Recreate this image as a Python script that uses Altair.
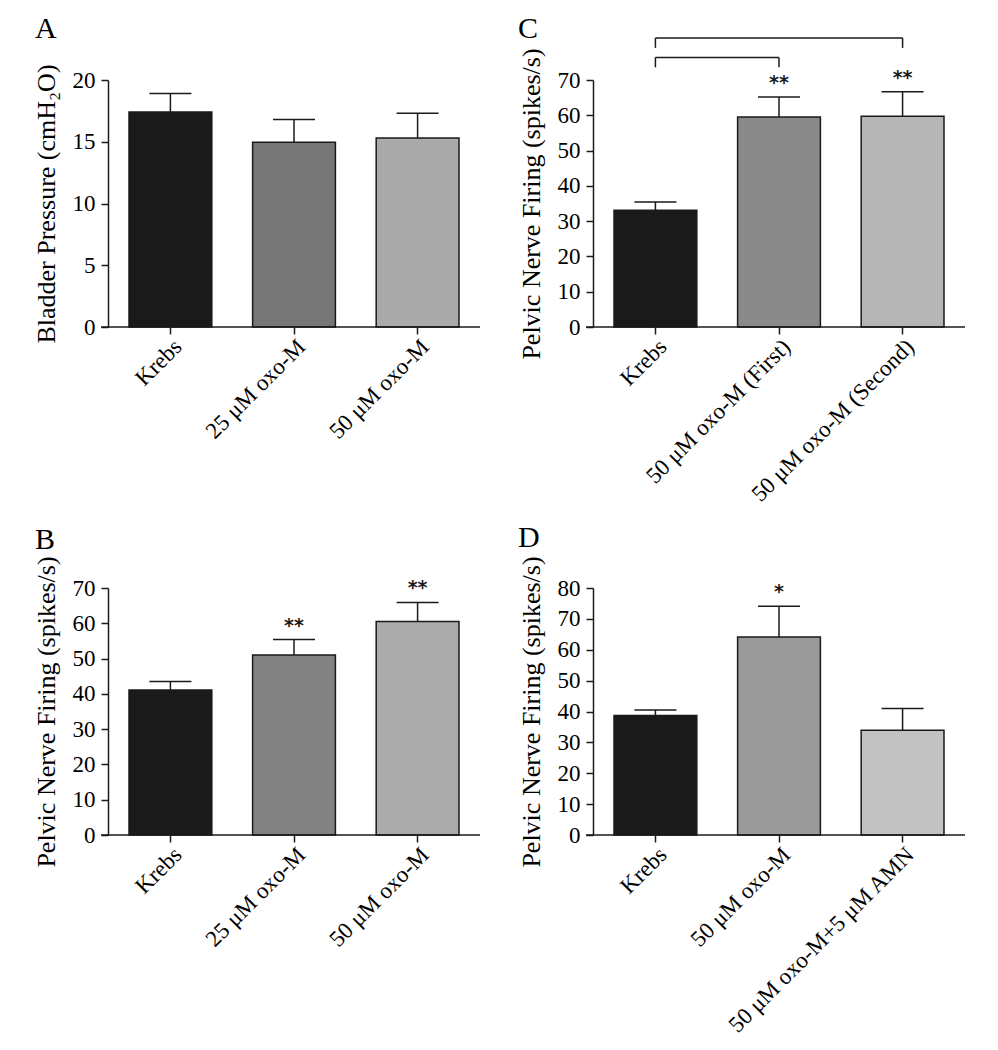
import altair as alt
import pandas as pd

FONT = "Liberation Serif"
W, H = 372, 247
INK = "#1a1a1a"

# ---- data ----
a_cats = ["Krebs", "25 μM oxo-M", "50 μM oxo-M"]
a_mean = [17.4, 14.95, 15.3]
a_sem = [1.5, 1.85, 2.0]
a_star = ["", "", ""]
a_fill = ["#1a1a1a", "#767676", "#aaaaaa"]

b_cats = ["Krebs", "25 μM oxo-M", "50 μM oxo-M"]
b_mean = [41.1, 51.0, 60.5]
b_sem = [2.4, 4.4, 5.4]
b_star = ["", "**", "**"]
b_fill = ["#1a1a1a", "#828282", "#ababab"]

c_cats = ["Krebs", "50 μM oxo-M (First)", "50 μM oxo-M (Second)"]
c_mean = [33.1, 59.5, 59.7]
c_sem = [2.3, 5.7, 7.0]
c_star = ["", "**", "**"]
c_fill = ["#1a1a1a", "#8a8a8a", "#b6b6b6"]

d_cats = ["Krebs", "50 μM oxo-M", "50 μM oxo-M+5 μM AMN"]
d_mean = [38.7, 64.1, 33.9]
d_sem = [1.8, 10.0, 7.1]
d_star = ["", "*", ""]
d_fill = ["#1a1a1a", "#9a9a9a", "#c2c2c2"]

# significance brackets for panel C (from, to, level, drop)
br_from = ["Krebs", "Krebs"]
br_to = ["50 μM oxo-M (First)", "50 μM oxo-M (Second)"]
br_level = [76.4, 81.9]
br_low = [73.6, 79.1]


def panel(letter, cats, mean, sem, star, fill, ymax, ystep, ytitle,
          letter_pos, brackets=False, anchor=False):
    df = pd.DataFrame({
        "cat": cats, "v": mean,
        "top": [m + s for m, s in zip(mean, sem)],
        "star": star, "fill": fill,
    })
    xscale = alt.Scale(domain=cats, paddingInner=0.33, paddingOuter=0.17)
    xaxis = alt.Axis(title=None, labelAngle=-45, labelAlign="right",
                     labelBaseline="top", tickSize=7, tickWidth=1.5,
                     tickColor=INK, domain=False, labelFontSize=23,
                     labelFont=FONT, labelColor="black",
                     labelPadding=1, labelLimit=500)
    yscale = alt.Scale(domain=[0, ymax], nice=False)
    yaxis = alt.Axis(title=ytitle, values=list(range(0, ymax + 1, ystep)),
                     tickSize=7, tickWidth=1.5, tickColor=INK,
                     domainColor=INK, domainWidth=1.5, grid=False,
                     labelFontSize=23, labelFont=FONT, labelColor="black",
                     labelPadding=6, titleFontSize=26, titleFont=FONT,
                     titleFontWeight="normal", titleColor="black",
                     titlePadding=13)

    def X(f="cat"):
        return alt.X(f + ":N", scale=xscale, axis=xaxis, sort=None)

    def Y(f):
        return alt.Y(f + ":Q", scale=yscale, axis=yaxis)

    base = alt.Chart(df)
    bars = base.mark_bar(stroke=INK, strokeWidth=1.5).encode(
        x=X(), y=Y("v"), color=alt.Color("fill:N", scale=None))
    stems = base.mark_rule(color=INK, strokeWidth=1.5).encode(
        x=X(), y=Y("v"), y2="top:Q")
    caps = base.mark_tick(color=INK, size=42, thickness=1.5, opacity=1).encode(
        x=X(), y=Y("top"))
    stars = base.mark_text(dy=-8, baseline="alphabetic", fontSize=19,
                           fontWeight="bold", font="DejaVu Sans",
                           color=INK).encode(
        x=X(), y=Y("top"), text="star:N")
    xline = alt.Chart(pd.DataFrame({"k": [0]})).mark_rule(
        color=INK, strokeWidth=1.5).encode(
        x=alt.value(-7), x2=alt.value(W), y=alt.value(H))
    lx, ly = letter_pos
    lab = alt.Chart(pd.DataFrame({"t": [letter]})).mark_text(
        align="left", baseline="alphabetic", fontSize=30, font=FONT,
        color="black").encode(x=alt.value(lx), y=alt.value(ly), text="t:N")
    layers = [bars, stems, caps, stars, xline, lab]
    if brackets:
        hb = pd.DataFrame({"cat": br_from, "cat2": br_to, "v": br_level})
        vb = pd.DataFrame({
            "cat": br_from + br_to,
            "v": br_level + br_level,
            "lo": br_low + br_low,
        })
        layers.append(alt.Chart(hb).mark_rule(color=INK, strokeWidth=1.5).encode(
            x=X(), x2="cat2:N", y=Y("v")))
        layers.append(alt.Chart(vb).mark_rule(color=INK, strokeWidth=1.5).encode(
            x=X(), y=Y("v"), y2="lo:Q"))
    if anchor:
        layers.append(alt.Chart(pd.DataFrame({"k": [0]})).mark_rule(
            strokeOpacity=0, strokeWidth=1).encode(
            x=alt.value(-100), x2=alt.value(-99), y=alt.value(-72)))
    return alt.layer(*layers).properties(
        width=W, height=H,
        view=alt.ViewBackground(stroke="transparent", strokeWidth=0))


pA = panel("A", a_cats, a_mean, a_sem, a_star, a_fill, 20, 5,
           "Bladder Pressure (cmH₂O)", (-73, -42), anchor=True)
pC = panel("C", c_cats, c_mean, c_sem, c_star, c_fill, 70, 10,
           "Pelvic Nerve Firing (spikes/s)", (-75, -42), brackets=True)
pB = panel("B", b_cats, b_mean, b_sem, b_star, b_fill, 70, 10,
           "Pelvic Nerve Firing (spikes/s)", (-73, -39))
pD = panel("D", d_cats, d_mean, d_sem, d_star, d_fill, 80, 10,
           "Pelvic Nerve Firing (spikes/s)", (-75, -41))

chart = alt.concat(pA, pC, pB, pD, columns=2,
                   spacing={"row": 261, "column": 113},
                   bounds="flush").properties(padding=0).configure_view(
    stroke="transparent", strokeWidth=0).configure(
    font=FONT, background="white")

chart.save("out.html", embed_options={"renderer": "svg", "actions": False})
